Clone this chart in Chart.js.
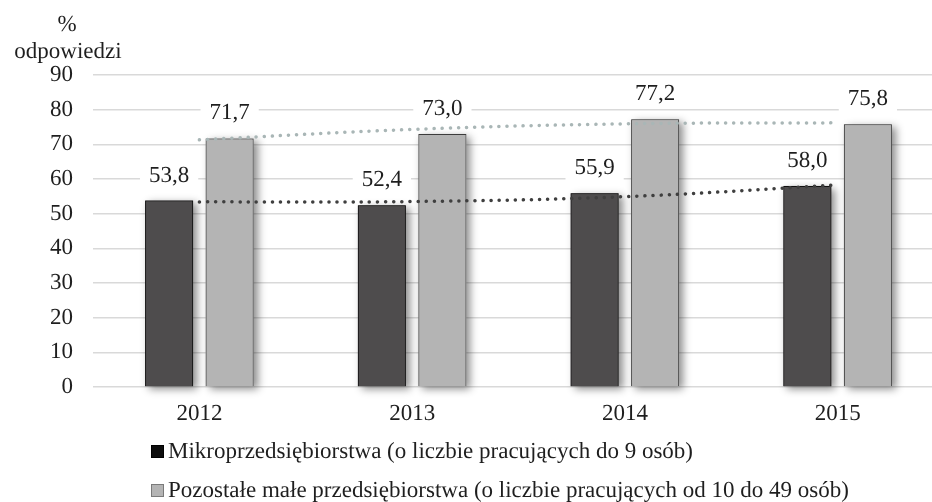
<!DOCTYPE html>
<html>
<head>
<meta charset="utf-8">
<script src="https://cdn.jsdelivr.net/npm/chart.js@4.4.1/dist/chart.umd.min.js"></script>
<style>
  html, body { margin: 0; padding: 0; background: #fff; overflow: hidden; }
  #wrap { width: 932px; height: 502px; overflow: hidden; }
  #box { width: 946px; height: 502px; position: relative; }
</style>
</head>
<body>
<div id="wrap"><div id="box"><canvas id="chart"></canvas></div></div>
<script>
var years = ['2012', '2013', '2014', '2015'];
var microValues = [53.8, 52.4, 55.9, 58.0];
var smallValues = [71.7, 73.0, 77.2, 75.8];

// trend lines at the category centres
var microTrend = [53.4, 53.5, 54.9, 58.3];
var smallTrend = [71.3, 74.3, 75.9, 76.2];

var yTicks = [0, 10, 20, 30, 40, 50, 60, 70, 80, 90];
var seriesNames = [
  'Mikroprzedsiębiorstwa (o liczbie pracujących do 9 osób)',
  'Pozostałe małe przedsiębiorstwa (o liczbie pracujących od 10 do 49 osób)'
];
var axisTitle = ['%', 'odpowiedzi'];

var SERIF = '"Liberation Serif"';
var TEXT = '#1e1e1e';

Chart.defaults.font.family = SERIF;
Chart.defaults.color = TEXT;

var canvas = document.getElementById('chart');
var ctx2d = canvas.getContext('2d');

// keep the serif outlines unhinted when the chart writes its text
var rawFill = ctx2d.fillText;
ctx2d.fillText = function (text, x, y, maxWidth) {
  if ('textRendering' in this) this.textRendering = 'geometricPrecision';
  if (maxWidth === undefined) rawFill.call(this, text, x, y);
  else rawFill.call(this, text, x, y, maxWidth);
};

function legendSwatch(fill, stroke) {
  var c = document.createElement('canvas');
  c.width = 16;
  c.height = 13;
  var g = c.getContext('2d');
  g.fillStyle = fill;
  g.fillRect(3, 0, 13, 13);
  g.strokeStyle = stroke;
  g.lineWidth = 1;
  g.strokeRect(3.5, 0.5, 12, 12);
  return c;
}
var swatches = [legendSwatch('#0d0d0d', '#000000'), legendSwatch('#b4b4b4', '#7a7a7a')];

// soft drop shadow painted under each bar before the bar itself
var barShadow = {
  id: 'barShadow',
  beforeDatasetDraw: function (chart, args) {
    if (args.meta.type !== 'bar') return;
    var ctx = chart.ctx;
    ctx.save();
    ctx.shadowColor = 'rgba(0,0,0,0.45)';
    ctx.shadowBlur = 8;
    ctx.shadowOffsetX = 4;
    ctx.shadowOffsetY = 3;
    ctx.fillStyle = chart.data.datasets[args.index].backgroundColor;
    args.meta.data.forEach(function (bar) {
      ctx.fillRect(bar.x - bar.width / 2, bar.y, bar.width, bar.base - bar.y);
    });
    ctx.restore();
  }
};

var valueLabels = {
  id: 'valueLabels',
  afterDatasetsDraw: function (chart) {
    var ctx = chart.ctx;
    ctx.save();
    ctx.font = '23px ' + SERIF;
    ctx.textAlign = 'center';
    ctx.textBaseline = 'middle';
    [0, 1].forEach(function (di) {
      var meta = chart.getDatasetMeta(di);
      meta.data.forEach(function (bar, i) {
        var text = chart.data.datasets[di].data[i].toFixed(1).replace('.', ',');
        var w = ctx.measureText(text).width + 18;
        var cy = bar.y - 25;
        ctx.fillStyle = '#ffffff';
        ctx.fillRect(bar.x - w / 2, cy - 14, w, 28);
        ctx.fillStyle = TEXT;
        ctx.fillText(text, bar.x, cy);
      });
    });
    ctx.restore();
  }
};

var axisCaption = {
  id: 'axisCaption',
  afterDraw: function (chart) {
    var ctx = chart.ctx;
    ctx.save();
    ctx.font = '23px ' + SERIF;
    ctx.fillStyle = TEXT;
    ctx.textAlign = 'center';
    ctx.textBaseline = 'middle';
    ctx.fillText(axisTitle[0], 67, 25);
    ctx.fillText(axisTitle[1], 68, 52);
    ctx.restore();
  }
};

// legend sits left aligned under the plot
var legendPlace = {
  id: 'legendPlace',
  afterLayout: function (chart) {
    var lg = chart.legend;
    lg.left = 139.5;
    lg.right = lg.left + 800;
    lg.width = 800;
    lg.top = 424;
    lg.bottom = 502;
    lg.height = 78;
  }
};

var chart = new Chart(canvas, {
  type: 'bar',
  data: {
    labels: years,
    datasets: [
      {
        label: seriesNames[0],
        data: microValues,
        backgroundColor: '#4e4c4d',
        borderColor: '#111111',
        borderWidth: 1,
        categoryPercentage: 0.569,
        barPercentage: 0.793,
        order: 2
      },
      {
        label: seriesNames[1],
        data: smallValues,
        backgroundColor: '#b4b4b4',
        borderColor: '#3c3c3c',
        borderWidth: 1,
        categoryPercentage: 0.569,
        barPercentage: 0.793,
        order: 2
      },
      {
        type: 'line',
        label: 'trend1',
        data: microTrend,
        borderColor: '#3f3f3f',
        borderWidth: 3.5,
        borderDash: [0.1, 8],
        borderCapStyle: 'round',
        pointRadius: 0,
        tension: 0.4,
        fill: false,
        order: 1
      },
      {
        type: 'line',
        label: 'trend2',
        data: smallTrend,
        borderColor: '#a9b6b6',
        borderWidth: 3.5,
        borderDash: [0.1, 8],
        borderCapStyle: 'round',
        pointRadius: 0,
        tension: 0.4,
        fill: false,
        order: 1
      }
    ]
  },
  options: {
    responsive: true,
    maintainAspectRatio: false,
    devicePixelRatio: 1,
    animation: false,
    layout: { padding: { top: 75, right: 2, left: 0, bottom: 0 } },
    scales: {
      x: {
        grid: { display: false },
        border: { display: false },
        ticks: { font: { size: 23 }, color: TEXT, padding: 5 },
        afterFit: function (s) { s.height = 55; }
      },
      y: {
        min: 0,
        max: 90,
        grid: { color: '#d9d9d9', lineWidth: 1.5, drawTicks: false },
        border: { display: false },
        ticks: { font: { size: 23 }, color: TEXT, padding: 20 },
        afterBuildTicks: function (s) {
          s.ticks = yTicks.map(function (v) { return {value: v}; });
        },
        afterFit: function (s) { s.width = 93; }
      }
    },
    plugins: {
      tooltip: { enabled: false },
      legend: {
        position: 'bottom',
        align: 'start',
        maxHeight: 60,
        labels: {
          font: { size: 23 },
          color: TEXT,
          padding: 16,
          usePointStyle: true,
          pointStyleWidth: 1,
          generateLabels: function (c) {
            var items = Chart.defaults.plugins.legend.labels.generateLabels(c);
            return items.filter(function (it) { return it.datasetIndex < 2; }).map(function (it) {
              it.pointStyle = swatches[it.datasetIndex];
              return it;
            });
          }
        }
      }
    }
  },
  plugins: [barShadow, valueLabels, axisCaption, legendPlace]
});

function repaint() { chart.render(); }
if (document.fonts && document.fonts.ready) document.fonts.ready.then(repaint);
setTimeout(repaint, 60);
</script>
</body>
</html>
